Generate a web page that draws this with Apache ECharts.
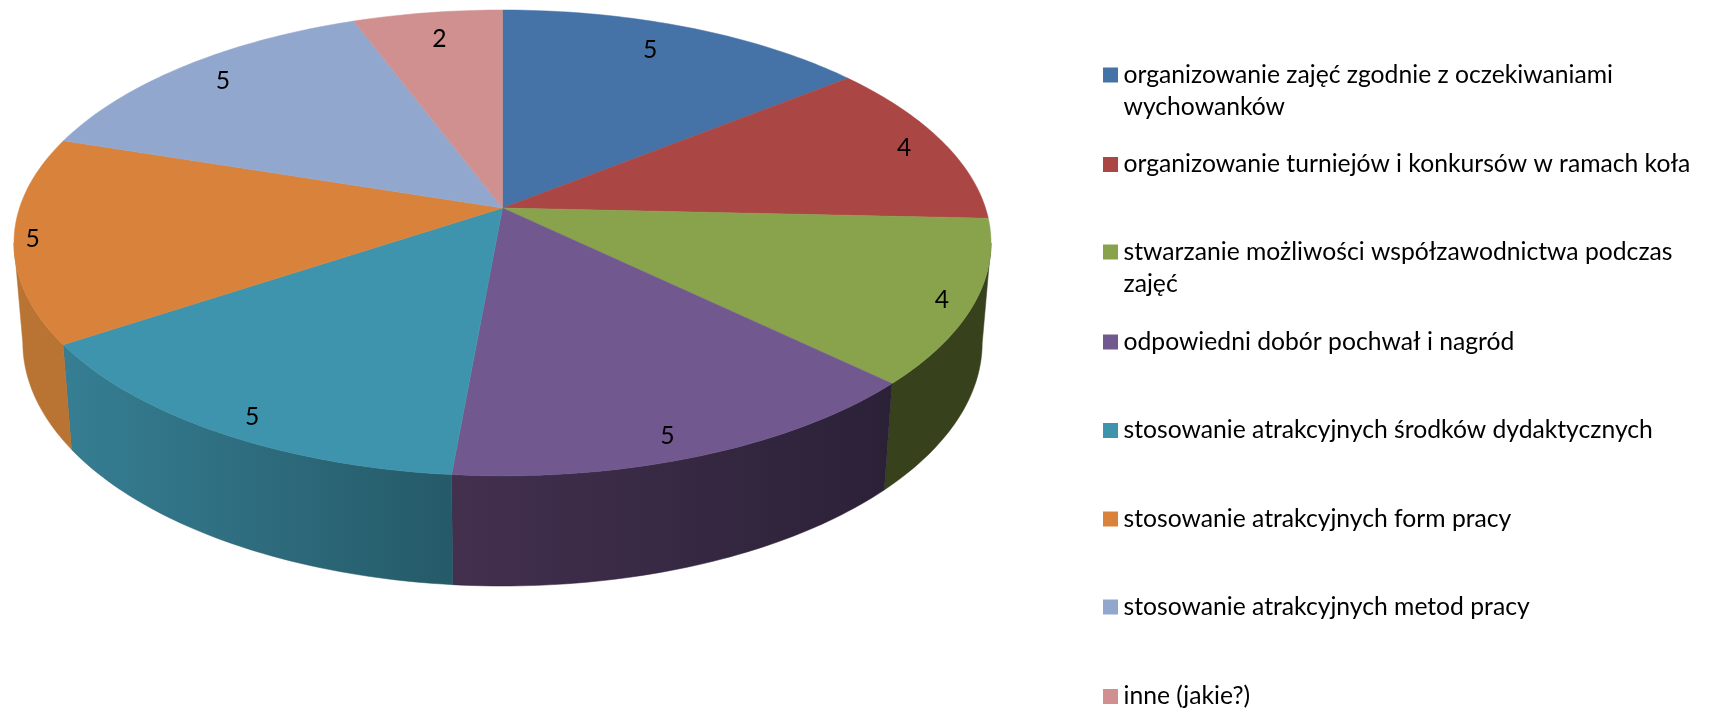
<!DOCTYPE html>
<html>
<head>
<meta charset="utf-8">
<style>
  html, body { margin: 0; padding: 0; background: #fff; }
  #chart { width: 1709px; height: 709px; }
</style>
<script src="https://cdn.jsdelivr.net/npm/echarts@6/dist/echarts.min.js"></script>
</head>
<body>
<div id="chart"></div>
<script>
const categories = [
  'organizowanie zajęć zgodnie z oczekiwaniami wychowanków',
  'organizowanie turniejów i konkursów w ramach koła',
  'stwarzanie możliwości współzawodnictwa podczas zajęć',
  'odpowiedni dobór pochwał i nagród',
  'stosowanie atrakcyjnych środków dydaktycznych',
  'stosowanie atrakcyjnych form pracy',
  'stosowanie atrakcyjnych metod pracy',
  'inne (jakie?)',
];
const values = [5, 4, 4, 5, 5, 5, 5, 2];
const topColors = ['#4572a7', '#aa4643', '#88a34c', '#71588f', '#3f94ad', '#d9823c', '#91a7ce', '#cf908f'];
const sideLeft = ['#35567e', '#803432', '#37421c', '#43304f', '#367e93', '#b97434', '#6f80a0', '#9d6f6e'];
const sideRight = ['#35567e', '#803432', '#37421c', '#2b2137', '#255a68', '#b97434', '#6f80a0', '#9d6f6e'];
const legendRows = [75, 164.5, 252, 342, 430.5, 519, 607, 696.5];
const wrapped = [true, false, true, false, false, false, false, false];
// where excel's best-fit dropped the labels, relative to r=0.85 at mid angle
const labelNudge = [[-12, -2], [26, -2], [42, 12], [1, 22], [-14, 22], [-56, 5], [-7, -4], [2, 0]];

const total = values.reduce((a, b) => a + b, 0);
const FONT = 'Lato, Carlito, sans-serif';
const FONT_SIZE = 24.7;
const LINE = 32;

// perspective pie: r in 0..1, deg clockwise from 12 o'clock, h=0 on the lid, h=1 on the base
const cam = { cx: 502.5, cy: 208, a: 483, b: 227.7, k: 0.15, drop: 100.4, shrink: 0.018 };
function project(deg, r, h) {
  let t = (deg * Math.PI) / 180;
  let u = r * Math.sin(t);
  let v = -r * Math.cos(t);
  let den = 1 - cam.k * v + cam.shrink * h;
  return [cam.cx + (cam.a * u) / den, cam.cy + (cam.b * v + cam.drop * h) / den];
}
function arc(from, to, h) {
  let pts = [];
  let n = Math.max(2, Math.ceil(to - from));
  for (let i = 0; i <= n; i++) pts.push(project(from + ((to - from) * i) / n, 1, h));
  return pts;
}
// rim only shows between these angles
const rimFrom = (Math.acos(-cam.k) * 180) / Math.PI;
const rimTo = 360 - rimFrom;

function renderSlice(params) {
  let i = params.seriesIndex;
  let before = values.slice(0, i).reduce((a, b) => a + b, 0);
  let start = (before / total) * 360;
  let end = ((before + values[i]) / total) * 360;
  let children = [];

  let from = Math.max(start, rimFrom);
  let to = Math.min(end, rimTo);
  if (to > from) {
    let side = arc(from, to, 0).concat(arc(from, to, 1).reverse());
    let fill = new echarts.graphic.LinearGradient(0, 0, 1, 0, [
      { offset: 0, color: sideLeft[i] },
      { offset: 1, color: sideRight[i] },
    ]);
    children.push({
      type: 'polygon',
      shape: { points: side },
      style: { fill: fill, stroke: sideRight[i], lineWidth: 0.5 },
    });
  }
  children.push({
    type: 'polygon',
    shape: { points: [project(0, 0, 0)].concat(arc(start, end, 0)) },
    style: { fill: topColors[i], stroke: topColors[i], lineWidth: 0.5 },
  });
  let spot = project((start + end) / 2, 0.85, 0);
  children.push({
    type: 'text',
    x: spot[0] + labelNudge[i][0],
    y: spot[1] + labelNudge[i][1],
    style: { text: String(values[i]), fill: '#000', font: FONT_SIZE + 'px ' + FONT, align: 'center', verticalAlign: 'middle' },
  });
  return { type: 'group', children: children };
}

// long names break before their last word
function legendText(name) {
  let i = categories.indexOf(name);
  if (!wrapped[i]) return name;
  let cut = name.lastIndexOf(' ');
  return name.slice(0, cut) + '\n' + name.slice(cut + 1);
}

let myChart = echarts.init(document.getElementById('chart'));

let option = {
  animation: false,
  backgroundColor: '#fff',
  legend: categories.map((name, i) => ({
    data: [name],
    orient: 'vertical',
    left: 1103,
    top: legendRows[i] - LINE / 2,
    padding: 0,
    selectedMode: false,
    formatter: legendText,
    itemWidth: 16,
    itemHeight: wrapped[i] ? LINE * 2 : LINE,
    // square sits on the first text line, the stray points only stretch the symbol box
    icon: wrapped[i] ? 'path://M0 0L0 0M15 64L15 64M0 8.5H15V23.5H0Z' : 'path://M0 0L0 0M15 32L15 32M0 8.5H15V23.5H0Z',
    textStyle: { fontFamily: FONT, fontSize: FONT_SIZE, color: '#000', lineHeight: LINE },
  })),
  series: categories.map((name, i) => ({
    type: 'custom',
    name: name,
    coordinateSystem: 'none',
    itemStyle: { color: topColors[i] },
    renderItem: renderSlice,
    data: [values[i]],
  })),
};

myChart.setOption(option);
</script>
</body>
</html>
